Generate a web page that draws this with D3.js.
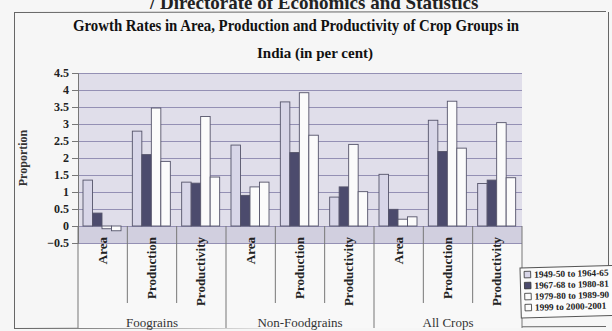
<!DOCTYPE html>
<html>
<head>
<meta charset="utf-8">
<script src="https://cdn.jsdelivr.net/npm/d3@7"></script>
<style>
  html, body { margin: 0; padding: 0; background: #f6f6f6; }
  svg { display: block; }
  text { font-family: "Liberation Serif", "DejaVu Serif", serif; }
</style>
</head>
<body>
<div id="chart"></div>
<script>
// data
const groups = ["Foograins", "Non-Foodgrains", "All Crops"];
const measures = ["Area", "Production", "Productivity"];
const periods = ["1949-50 to 1964-65", "1967-68 to 1980-81", "1979-80 to 1989-90", "1999 to 2000-2001"];
const period1 = [1.35, 2.79, 1.29, 2.38, 3.65, 0.85, 1.52, 3.11, 1.25];
const period2 = [0.38, 2.10, 1.26, 0.90, 2.16, 1.15, 0.49, 2.19, 1.35];
const period3 = [-0.08, 3.47, 3.22, 1.15, 3.92, 2.40, 0.20, 3.67, 3.04];
const period4 = [-0.14, 1.90, 1.44, 1.29, 2.67, 1.01, 0.27, 2.29, 1.42];
const yTicks = [-0.5, 0, 0.5, 1, 1.5, 2, 2.5, 3, 3.5, 4, 4.5];

const series = [period1, period2, period3, period4];
const colors = ["#d8d6e8", "#4c4b6d", "#fbfbfb", "#fbfbfb"];

const W = 612, H = 331;
const svg = d3.select("#chart").append("svg").attr("width", W).attr("height", H);

// page header, cut off by the scan
svg.append("text").attr("x", 150).attr("y", 9)
    .style("font-size", "19px").style("font-weight", "bold").attr("fill", "#222")
    .text("/ Directorate of Economics and Statistics");

// outer frame
const frame = svg.append("g").attr("stroke", "#666").attr("stroke-width", 1);
frame.append("line").attr("x1", 14).attr("x2", 606).attr("y1", 12.5).attr("y2", 11.5);
frame.append("line").attr("x1", 14.5).attr("x2", 14.5).attr("y1", 12).attr("y2", 328);
frame.append("line").attr("x1", 608.5).attr("x2", 608.5).attr("y1", 12).attr("y2", 268);
frame.append("line").attr("x1", 14).attr("x2", 606).attr("y1", 328.5).attr("y2", 326.5);

// titles
svg.append("text").attr("x", 296).attr("y", 31).attr("text-anchor", "middle")
    .attr("textLength", 446).attr("lengthAdjust", "spacingAndGlyphs")
    .style("font-size", "16px").style("font-weight", "bold").attr("fill", "#111")
    .text("Growth Rates in Area, Production and Productivity of Crop Groups in");
svg.append("text").attr("x", 315).attr("y", 58).attr("text-anchor", "middle")
    .style("font-size", "15px").style("font-weight", "bold").attr("fill", "#111")
    .text("India (in per cent)");

// scales
const left = 78, right = 522;
const y = d3.scaleLinear().domain([-0.5, 4.5]).range([243, 73]);
const cats = [];
groups.forEach(g => measures.forEach(m => cats.push(g + "|" + m)));
const x = d3.scaleBand().domain(cats).range([left, right]);
const xs = d3.scaleBand().domain(d3.range(4)).range([5, 43]);

// wall and floor
svg.append("rect").attr("x", left).attr("y", y(4.5)).attr("width", right - left)
    .attr("height", y(0) - y(4.5)).attr("fill", "#e0deea");
svg.append("rect").attr("x", left).attr("y", y(0)).attr("width", right - left)
    .attr("height", y(-0.5) - y(0)).attr("fill", "#d1cfdf");
svg.append("rect").attr("x", left).attr("y", y(-0.5)).attr("width", right - left)
    .attr("height", 328 - y(-0.5)).attr("fill", "#f8f8f8");

// gridlines
svg.append("g").selectAll("line").data(yTicks).join("line")
    .attr("x1", left).attr("x2", right)
    .attr("y1", d => y(d) + 0.5).attr("y2", d => y(d) + 0.5)
    .attr("stroke", "#9490b4").attr("stroke-width", 1);

// y axis
const yAxis = svg.append("g").attr("transform", `translate(${left},0)`)
    .call(d3.axisLeft(y).tickValues(yTicks).tickSize(6).tickPadding(3).tickFormat(d3.format("")));
yAxis.select(".domain").attr("stroke", "#777");
yAxis.selectAll(".tick line").attr("stroke", "#777");
yAxis.selectAll(".tick text").style("font-size", "12px").style("font-weight", "bold")
    .style("font-family", "Liberation Serif").attr("fill", "#222");

svg.append("text").attr("transform", "translate(27,158) rotate(-90)")
    .attr("text-anchor", "middle").style("font-size", "12px").style("font-weight", "bold")
    .attr("fill", "#333").text("Proportion");

// bars
series.forEach((vals, s) => {
    svg.append("g").selectAll("rect").data(vals).join("rect")
        .attr("x", (d, i) => x(cats[i]) + xs(s))
        .attr("width", xs.bandwidth())
        .attr("y", d => y(Math.max(0, d)))
        .attr("height", d => Math.abs(y(d) - y(0)))
        .attr("fill", colors[s])
        .attr("stroke", "#55546a").attr("stroke-width", 0.9);
});

// category separators
const seps = d3.range(10).map(i => left + i * x.bandwidth());
svg.append("g").selectAll("line").data(seps).join("line")
    .attr("x1", d => d).attr("x2", d => d)
    .attr("y1", y(0)).attr("y2", (d, i) => i % 3 === 0 ? 328 : 303)
    .attr("stroke", "#777").attr("stroke-width", 1);

// measure labels (rotated)
svg.append("g").selectAll("text").data(cats).join("text")
    .attr("transform", d => `translate(${x(d) + x.bandwidth() / 2 + 4},237) rotate(-90)`)
    .attr("text-anchor", "end")
    .style("font-size", "13px").style("font-weight", "bold").attr("fill", "#222")
    .text(d => d.split("|")[1]);

// group labels
svg.append("g").selectAll("text").data(groups).join("text")
    .attr("x", (d, i) => left + (i * 3 + 1.5) * x.bandwidth())
    .attr("y", 327).attr("text-anchor", "middle")
    .style("font-size", "13px").attr("fill", "#333")
    .text(d => d);

// legend
const legend = svg.append("g").attr("transform", "translate(520,268) rotate(-1.5)");
legend.append("rect").attr("width", 96).attr("height", 50)
    .attr("fill", "#fbfbfb").attr("stroke", "#555");
const items = legend.selectAll("g").data(periods).join("g")
    .attr("transform", (d, i) => `translate(4,${10 + i * 11})`);
items.append("rect").attr("y", -6.5).attr("width", 6.5).attr("height", 6.5)
    .attr("fill", (d, i) => colors[i]).attr("stroke", "#333").attr("stroke-width", 0.8);
items.append("text").attr("x", 10).attr("y", 0)
    .style("font-size", "9.3px").style("font-weight", "bold").attr("fill", "#222")
    .text(d => d);
</script>
</body>
</html>
